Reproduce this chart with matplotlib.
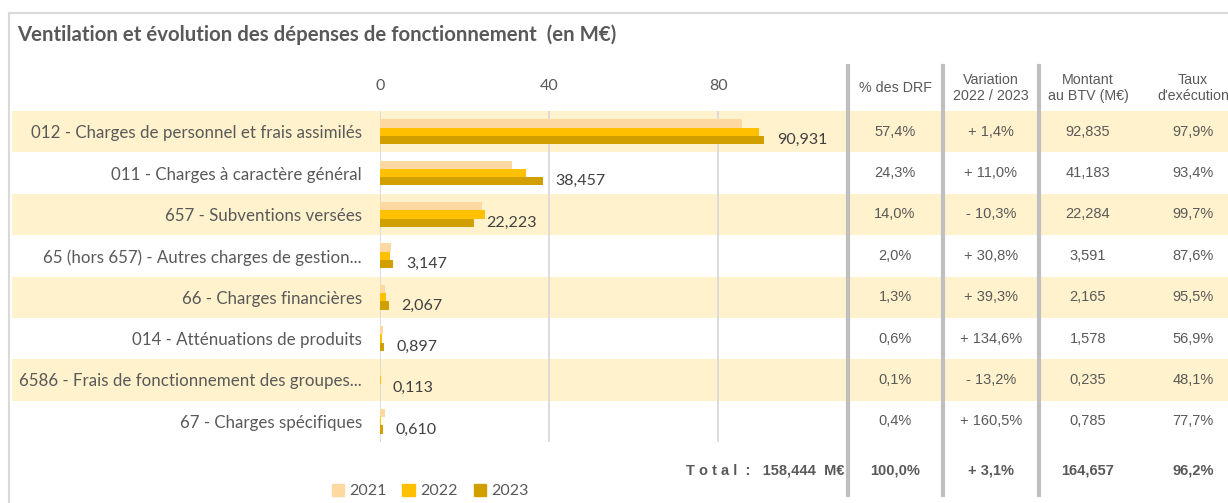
import matplotlib
matplotlib.use("Agg")
import matplotlib.pyplot as plt
import numpy as np
from matplotlib.patches import Rectangle, Patch
from matplotlib.lines import Line2D
from matplotlib.transforms import blended_transform_factory

# --- data ---
categories = [
    "012 - Charges de personnel et frais assimilés",
    "011 - Charges à caractère général",
    "657 - Subventions versées",
    "65 (hors 657) - Autres charges de gestion...",
    "66 - Charges financières",
    "014 - Atténuations de produits",
    "6586 - Frais de fonctionnement des groupes...",
    "67 - Charges spécifiques",
]
years = ["2021", "2022", "2023"]
v2021 = [85.7, 31.3, 24.1, 2.7, 1.1, 0.6, 0.15, 1.2]
v2022 = [89.7, 34.6, 24.8, 2.4, 1.5, 0.38, 0.13, 0.23]
v2023 = [90.931, 38.457, 22.223, 3.147, 2.067, 0.897, 0.113, 0.610]

pct_drf = ["57,4%", "24,3%", "14,0%", "2,0%", "1,3%", "0,6%", "0,1%", "0,4%"]
variation = ["+ 1,4%", "+ 11,0%", "- 10,3%", "+ 30,8%", "+ 39,3%", "+ 134,6%", "- 13,2%", "+ 160,5%"]
montant_btv = ["92,835", "41,183", "22,284", "3,591", "2,165", "1,578", "0,235", "0,785"]
taux_exec = ["97,9%", "93,4%", "99,7%", "87,6%", "95,5%", "56,9%", "48,1%", "77,7%"]
col_headers = ["% des DRF", "Variation\n2022 / 2023", "Montant\nau BTV (M€)", "Taux\nd'exécution"]
total_label = "T o t a l  :   158,444  M€"
total_row = ["100,0%", "+ 3,1%", "164,657", "96,2%"]

title = "Ventilation et évolution des dépenses de fonctionnement  (en M€)"

# --- style ---
c21, c22, c23 = "#FDD8A0", "#FFC000", "#D29F00"
band = "#FFF2CC"
txt = "#595959"
sepc = "#BFBFBF"
calib = ["Lato", "DejaVu Sans"]
narrow = ["Liberation Sans", "DejaVu Sans"]

W, H = 1228, 503
fig = plt.figure(figsize=(W / 100, H / 100), dpi=100)


def fx(px):
    return px / W


def fy(py):
    return 1 - py / H


ax = fig.add_axes([fx(380), fy(442), fx(845) - fx(380), (442 - 111) / H])
ax.set_facecolor("none")

n = len(categories)
y = np.arange(n)
h = 0.2
ax.barh(y - h, v2021, h, color=c21, zorder=2)
ax.barh(y, v2022, h, color=c22, zorder=2)
ax.barh(y + h, v2023, h, color=c23, zorder=2)

for yi, v in zip(y, v2023):
    ax.annotate(f"{v:.3f}".replace(".", ","), xy=(v, yi + h), xytext=(9, 0),
                textcoords="offset points", va="center", ha="left",
                fontsize=11.5, color="#404040", family=calib)

ax.set_xlim(0, 110)
ax.set_ylim(n - 0.5, -0.5)
ax.xaxis.tick_top()
ax.set_xticks([0, 40, 80])
ax.set_yticks(y, categories)
ax.tick_params(axis="x", length=0, pad=13, labelsize=11.5, labelcolor=txt)
ax.tick_params(axis="y", length=0, pad=13, labelsize=12.2, labelcolor=txt)
for lab in ax.get_xticklabels() + ax.get_yticklabels():
    lab.set_family(calib)
for s in ax.spines.values():
    s.set_visible(False)
ax.set_axisbelow(True)
ax.xaxis.grid(True, color="#D9D9D9", lw=1.3)

tr = blended_transform_factory(fig.transFigure, ax.transData)

# alternating row bands
for i in range(0, n, 2):
    ax.add_artist(Rectangle((fx(12), i - 0.5), 1 - fx(12), 1, transform=tr,
                            facecolor=band, edgecolor="none", zorder=0, clip_on=False))

# table columns
col_x = [895, 991, 1088, 1193]
for cx, col in zip(col_x, [pct_drf, variation, montant_btv, taux_exec]):
    for i, s in enumerate(col):
        ax.text(fx(cx), i, s, transform=tr, ha="center", va="center",
                fontsize=10.5, color=txt, family=narrow, clip_on=False)

for cx, s in zip(col_x, col_headers):
    fig.text(fx(cx), fy(88), s, ha="center", va="center", fontsize=10.3,
             color=txt, family=narrow, linespacing=1.25)

# total row
ty = n + 0.18
ax.text(fx(845), ty, total_label, transform=tr, ha="right", va="center",
        fontsize=10.5, fontweight="bold", color=txt, family=narrow, clip_on=False)
for cx, s in zip(col_x, total_row):
    ax.text(fx(cx), ty, s, transform=tr, ha="center", va="center",
            fontsize=10.5, fontweight="bold", color=txt, family=narrow, clip_on=False)

# separators
for sx in [848, 943, 1039]:
    fig.add_artist(Line2D([fx(sx)] * 2, [fy(66), fy(495)], transform=fig.transFigure,
                          color=sepc, lw=3))

# frame
fig.add_artist(Line2D([fx(9), 1], [fy(13), fy(13)], transform=fig.transFigure, color="#D9D9D9", lw=1.5))
fig.add_artist(Line2D([fx(9), fx(9)], [fy(13), 0], transform=fig.transFigure, color="#D9D9D9", lw=1.5))

fig.text(fx(17), fy(35), title, ha="left", va="center", fontsize=14.7,
         fontweight="bold", color=txt, family=calib)

handles = [Patch(color=c) for c in (c21, c22, c23)]
leg = fig.legend(handles, years, loc="center", bbox_to_anchor=(fx(430), fy(491)),
                 ncol=3, frameon=False, handlelength=0.8, handleheight=0.8,
                 handletextpad=0.3, columnspacing=1.0, prop={"family": calib, "size": 11.5})
for t in leg.get_texts():
    t.set_color(txt)

fig.savefig("out.png", dpi=100)
